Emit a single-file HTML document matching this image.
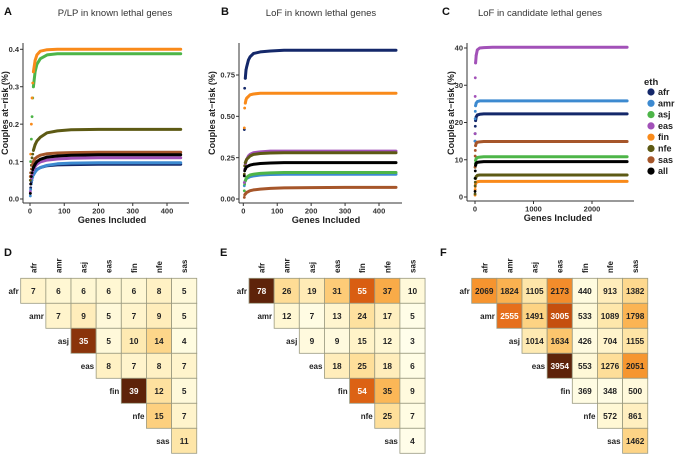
<!DOCTYPE html>
<html><head><meta charset="utf-8"><style>
html,body{margin:0;padding:0;background:#fff}
svg{display:block;font-family:"Liberation Sans",sans-serif}
</style></head><body>
<svg id="fig" width="677" height="455" viewBox="0 0 677 455" xmlns="http://www.w3.org/2000/svg"></svg>
<script>
const ethnicities = ["afr","amr","asj","eas","fin","nfe","sas","all"];
const colorsEth = {afr:"#14286a",amr:"#3d8ad0",asj:"#4db548",eas:"#a251b8",fin:"#f98a1a",nfe:"#5d5a14",sas:"#a6562a",all:"#000000"};

// Panel A: P/LP in known lethal genes
const genesA = [1,2,4,6,8,10,15,20,30,50,80,120,200,300,440];
const valuesA = {
  afr:[0.015,0.03,0.045,0.055,0.062,0.067,0.074,0.079,0.084,0.089,0.091,0.092,0.093,0.093,0.093],
  amr:[0.008,0.025,0.04,0.05,0.058,0.064,0.072,0.078,0.084,0.09,0.094,0.096,0.097,0.097,0.097],
  asj:[0.06,0.1,0.16,0.22,0.27,0.30,0.34,0.36,0.375,0.385,0.388,0.388,0.388,0.388,0.388],
  eas:[0.02,0.04,0.055,0.065,0.072,0.078,0.087,0.093,0.099,0.104,0.107,0.109,0.11,0.11,0.11],
  fin:[0.06,0.12,0.2,0.27,0.31,0.34,0.37,0.385,0.395,0.399,0.4,0.4,0.4,0.4,0.4],
  nfe:[0.05,0.07,0.09,0.11,0.12,0.13,0.145,0.155,0.165,0.177,0.182,0.185,0.186,0.186,0.186],
  sas:[0.06,0.07,0.08,0.09,0.095,0.1,0.108,0.112,0.117,0.121,0.123,0.124,0.125,0.125,0.125],
  all:[0.015,0.04,0.06,0.07,0.078,0.084,0.093,0.1,0.106,0.112,0.115,0.117,0.118,0.118,0.118]
};
const yTicksA = [0,0.1,0.2,0.3,0.4];
const yTickLabelsA = ["0.0","0.1","0.2","0.3","0.4"];
const xTicksA = [0,100,200,300,400];

// Panel B: LoF in known lethal genes
const genesB = [3,4,6,8,10,15,20,30,50,80,120,200,300,450];
const valuesB = {
  afr:[0.42,0.67,0.73,0.78,0.8,0.84,0.86,0.88,0.89,0.895,0.9,0.9,0.9,0.9],
  amr:[0.08,0.1,0.11,0.12,0.125,0.13,0.135,0.14,0.145,0.148,0.15,0.15,0.15,0.15],
  asj:[0.05,0.09,0.11,0.12,0.13,0.14,0.145,0.15,0.155,0.158,0.16,0.16,0.16,0.16],
  eas:[0.1,0.18,0.21,0.23,0.24,0.26,0.27,0.28,0.285,0.29,0.29,0.29,0.29,0.29],
  fin:[0.43,0.55,0.58,0.6,0.61,0.62,0.63,0.635,0.64,0.64,0.64,0.64,0.64,0.64],
  nfe:[0.15,0.2,0.22,0.23,0.24,0.25,0.26,0.27,0.275,0.278,0.28,0.28,0.28,0.28],
  sas:[0.01,0.025,0.03,0.035,0.04,0.045,0.05,0.055,0.06,0.064,0.067,0.069,0.07,0.07],
  all:[0.14,0.17,0.18,0.19,0.195,0.2,0.205,0.21,0.215,0.218,0.22,0.22,0.22,0.22]
};
const yTicksB = [0,0.25,0.5,0.75];
const yTickLabelsB = ["0.00","0.25","0.50","0.75"];
const xTicksB = [0,100,200,300,400];

// Panel C: LoF in candidate lethal genes
const genesC = [1,3,5,10,20,40,80,150,300,600,1200,2600];
const valuesC = {
  afr:[15,17,19,20.5,21.5,22,22.2,22.3,22.3,22.3,22.3,22.3],
  amr:[15,21,23,24.5,25.2,25.6,25.8,25.8,25.8,25.8,25.8,25.8],
  asj:[5,8,9,9.8,10.3,10.6,10.7,10.8,10.8,10.8,10.8,10.8],
  eas:[17,27,32,36,38,39.5,40,40.1,40.2,40.2,40.2,40.2],
  fin:[0.5,2,2.8,3.5,3.9,4.1,4.2,4.2,4.2,4.2,4.2,4.2],
  nfe:[0.8,3,4,5,5.5,5.8,5.9,5.9,5.9,5.9,5.9,5.9],
  sas:[8,11,12.5,13.8,14.4,14.7,14.8,14.9,14.9,14.9,14.9,14.9],
  all:[1.5,5,7,8.5,9.1,9.3,9.4,9.5,9.5,9.5,9.5,9.5]
};
const yTicksC = [0,10,20,30,40];
const yTickLabelsC = ["0","10","20","30","40"];
const xTicksC = [0,1000,2000];

// Heatmaps (upper triangle rows)
const pops = ["afr","amr","asj","eas","fin","nfe","sas"];
const heatD = [[7,6,6,6,6,8,5],[7,9,5,7,9,5],[35,5,10,14,4],[8,7,8,7],[39,12,5],[15,7],[11]];
const heatE = [[78,26,19,31,55,37,10],[12,7,13,24,17,5],[9,9,15,12,3],[18,25,18,6],[54,35,9],[25,7],[4]];
const heatF = [[2069,1824,1105,2173,440,913,1382],[2555,1491,3005,533,1089,1798],[1014,1634,426,704,1155],[3954,553,1276,2051],[369,348,500],[572,861],[1462]];

const NS="http://www.w3.org/2000/svg";
const svg=document.getElementById('fig');
function mk(tag,attrs,parent,text){const e=document.createElementNS(NS,tag);for(const k in attrs)e.setAttribute(k,attrs[k]);if(text!==undefined)e.textContent=text;(parent||svg).appendChild(e);return e;}

function linear(d0,d1,r0,r1){return v=>r0+(v-d0)*(r1-r0)/(d1-d0);}

function linePanel(cfg){
  const g=mk('g',{});
  
  
  const xs=linear(0,cfg.xRef,cfg.x0,cfg.xRefPx);
  const ys=linear(0,cfg.yRef,cfg.y0,cfg.yRefPx);
  ethnicities.forEach(eth=>{
    const vals=cfg.values[eth];
    const pts=cfg.genes.map((gn,i)=>[xs(gn),ys(vals[i])]).slice(cfg.lineStart).map(p=>p[0].toFixed(1)+','+p[1].toFixed(1)).join(' ');
    const sg=mk('g',{},g);
    
    
    const pl=mk('polyline',{points:pts,fill:'none',stroke:colorsEth[eth],'stroke-width':3,'stroke-linejoin':'round','stroke-linecap':'round'},sg);
    
    
    cfg.genes.forEach((gn,i)=>{
      if(i<cfg.lineStart+2){
        const c=mk('circle',{cx:xs(gn),cy:ys(vals[i]),r:1.4,fill:colorsEth[eth]},sg);
        
        
      }
    });
  });
  const ax=mk('g',{stroke:'#333','stroke-width':1},g);
  
  
  mk('line',{x1:cfg.ax,y1:cfg.top,x2:cfg.ax,y2:cfg.ay},ax);
  mk('line',{x1:cfg.ax,y1:cfg.ay,x2:cfg.right,y2:cfg.ay},ax);
  cfg.yTicks.forEach((t,i)=>{
    const y=ys(t);
    mk('line',{x1:cfg.ax-3,y1:y,x2:cfg.ax,y2:y},ax);
    const tx=mk('text',{x:cfg.ax-4,y:y+2.7,'text-anchor':'end','font-size':7.5,'font-weight':'bold',fill:'#333',stroke:'none'},g,cfg.yLabels[i]);
    
    
  });
  cfg.xTicks.forEach(t=>{
    const x=xs(t);
    mk('line',{x1:x,y1:cfg.ay,x2:x,y2:cfg.ay+3},ax);
    const tx=mk('text',{x:x,y:cfg.ay+10.5,'text-anchor':'middle','font-size':7.5,'font-weight':'bold',fill:'#333'},g,String(t));
    
    
  });
  const xt=mk('text',{x:cfg.xTitleX,y:cfg.ay+20,'text-anchor':'middle','font-size':9.2,'font-weight':'bold',fill:'#222'},g,'Genes Included');
  
  
  const yt=mk('text',{x:0,y:0,transform:`translate(${cfg.yTitleX},113) rotate(-90)`,'text-anchor':'middle','font-size':9,'font-weight':'bold',fill:'#222'},g,'Couples at\u2212risk (%)');
  
  
  const ti=mk('text',{x:cfg.titleX,y:16,'text-anchor':'middle','font-size':9.5,fill:'#333'},g,cfg.title);
  
  
  const lt=mk('text',{x:cfg.letterX,y:15,'font-size':11,'font-weight':'bold',fill:'#111'},g,cfg.letter);
  
  
}

linePanel({name:'chart-a',genes:genesA,values:valuesA,lineStart:5,xRef:400,x0:30,xRefPx:167,yRef:0.4,y0:199,yRefPx:49.3,
  ax:23,ay:203,top:43,right:189,yTicks:yTicksA,yLabels:yTickLabelsA,xTicks:xTicksA,xTitleX:112,yTitleX:8,titleX:115,title:'P/LP in known lethal genes',letter:'A',letterX:4});
linePanel({name:'chart-b',genes:genesB,values:valuesB,lineStart:2,xRef:400,x0:243.3,xRefPx:379,yRef:0.75,y0:199,yRefPx:75,
  ax:239,ay:203,top:43,right:402,yTicks:yTicksB,yLabels:yTickLabelsB,xTicks:xTicksB,xTitleX:326,yTitleX:215,titleX:321,title:'LoF in known lethal genes',letter:'B',letterX:221});
linePanel({name:'chart-c',genes:genesC,values:valuesC,lineStart:3,xRef:2000,x0:475,xRefPx:592,yRef:40,y0:197,yRefPx:48,
  ax:467,ay:201,top:43,right:634,yTicks:yTicksC,yLabels:yTickLabelsC,xTicks:xTicksC,xTitleX:558,yTitleX:454,titleX:540,title:'LoF in candidate lethal genes',letter:'C',letterX:442});

const lg=mk('g',{});


const lgt=mk('text',{x:644,y:85,'font-size':9.5,'font-weight':'bold',fill:'#222'},lg,'eth');


ethnicities.forEach((eth,i)=>{
  const y=92+i*11.3;
  const eg=mk('g',{},lg);
  
  
  mk('circle',{cx:651,cy:y,r:3.6,fill:colorsEth[eth]},eg);
  mk('text',{x:658,y:y+3,'font-size':9,'font-weight':'bold',fill:'#222'},eg,eth);
});

const stops=[[0,'#fffff0'],[0.1,'#fffce2'],[0.2,'#fff2c6'],[0.3,'#fee3a2'],[0.38,'#fdd282'],[0.45,'#fbb656'],[0.52,'#f6952f'],[0.62,'#ec7620'],[0.72,'#d65a10'],[0.8,'#b3440c'],[1,'#5e230a']];
function hex(c){return [1,3,5].map(i=>parseInt(c.substr(i,2),16));}
function colorAt(t){
  for(let i=1;i<stops.length;i++){
    if(t<=stops[i][0]){
      const a=hex(stops[i-1][1]),b=hex(stops[i][1]);
      const f=(t-stops[i-1][0])/(stops[i][0]-stops[i-1][0]);
      return 'rgb('+a.map((v,k)=>Math.round(v+(b[k]-v)*f)).join(',')+')';
    }
  }
  return stops[stops.length-1][1];
}

function heatPanel(name,data,x0,letter,letterX){
  const g=mk('g',{});
  
  
  const cw=25.15, ch=25, y0=278.3;
  let mx=0; data.forEach(r=>r.forEach(v=>{if(v>mx)mx=v;}));
  data.forEach((row,r)=>{
    row.forEach((v,k)=>{
      const c=r+k;
      const t=v/mx;
      const x=x0+c*cw, y=y0+r*ch;
      const cell=mk('rect',{x:x,y:y,width:cw,height:ch,fill:colorAt(t),stroke:'#9a9a80','stroke-width':0.8},g);
      
      
      const tx=mk('text',{x:x+cw/2,y:y+ch/2+3,'text-anchor':'middle','font-size':8.3,'font-weight':'bold',fill:t>0.6?'#fff':'#222'},g,String(v));
      
      
    });
    const rl=mk('text',{x:x0+r*cw-2,y:y0+r*ch+ch/2+3,'text-anchor':'end','font-size':8,'font-weight':'bold',fill:'#222'},g,pops[r]);
    
    
  });
  pops.forEach((p,c)=>{
    const cx=x0+c*cw+cw/2+3;
    const cl=mk('text',{x:0,y:0,transform:`translate(${cx},273) rotate(-90)`,'font-size':8,'font-weight':'bold',fill:'#222'},g,p);
    
    
  });
  const lt=mk('text',{x:letterX,y:256,'font-size':11,'font-weight':'bold',fill:'#111'},g,letter);
  
  
}
heatPanel('heatmap-d',heatD,20.7,'D',4);
heatPanel('heatmap-e',heatE,249,'E',220);
heatPanel('heatmap-f',heatF,471.7,'F',440);
</script>
</body></html>
